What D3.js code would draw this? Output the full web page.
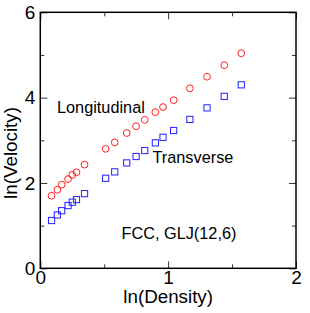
<!DOCTYPE html>
<html><head><meta charset="utf-8">
<script src="https://cdn.jsdelivr.net/npm/d3@7"></script>
<style>body{margin:0;background:#fff}svg{display:block}text{font-family:"Liberation Sans",Arial,Helvetica,sans-serif}</style>
</head><body>
<svg id="c" width="310" height="313"></svg>
<script>
const lnDensity = [0.088,0.133,0.167,0.217,0.250,0.283,0.346,0.511,0.582,0.676,0.749,0.817,0.900,0.960,1.043,1.170,1.304,1.439,1.572];
const longitudinal = [1.70,1.84,1.96,2.09,2.19,2.25,2.43,2.80,2.95,3.17,3.33,3.48,3.66,3.78,3.94,4.22,4.49,4.76,5.04];
const transverse = [1.12,1.25,1.35,1.47,1.55,1.61,1.75,2.11,2.26,2.47,2.62,2.76,2.94,3.07,3.23,3.49,3.76,4.03,4.30];
const xMajor = [0,1,2], xMinor = [0.5,1.5];
const yMajor = [0,2,4,6], yMinor = [1,3,5];

const svg = d3.select("#c");
const L=40.3, R=296, T=12.3, B=268.3;
const x = d3.scaleLinear().domain([0,2]).range([L,R]);
const y = d3.scaleLinear().domain([0,6]).range([B,T]);

function styleAxis(g){ g.select(".domain").remove(); g.selectAll("line").attr("stroke","#333"); g.selectAll("text").attr("font-size",19).attr("fill","#000"); }

svg.append("g").attr("transform",`translate(0,${B})`).call(d3.axisBottom(x).tickValues(xMajor).tickSize(-7).tickPadding(2.5).tickFormat(d3.format("d"))).call(styleAxis);
svg.append("g").attr("transform",`translate(0,${B})`).call(d3.axisBottom(x).tickValues(xMinor).tickSize(-4).tickFormat("")).call(styleAxis);
svg.append("g").attr("transform",`translate(0,${T})`).call(d3.axisTop(x).tickValues(xMajor).tickSize(-7).tickFormat("")).call(styleAxis);
svg.append("g").attr("transform",`translate(0,${T})`).call(d3.axisTop(x).tickValues(xMinor).tickSize(-4).tickFormat("")).call(styleAxis);
svg.append("g").attr("transform",`translate(${L},0)`).call(d3.axisLeft(y).tickValues(yMajor).tickSize(-7).tickPadding(5).tickFormat(d3.format("d"))).call(styleAxis);
svg.append("g").attr("transform",`translate(${L},0)`).call(d3.axisLeft(y).tickValues(yMinor).tickSize(-4).tickFormat("")).call(styleAxis);
svg.append("g").attr("transform",`translate(${R},0)`).call(d3.axisRight(y).tickValues(yMajor).tickSize(-7).tickFormat("")).call(styleAxis);
svg.append("g").attr("transform",`translate(${R},0)`).call(d3.axisRight(y).tickValues(yMinor).tickSize(-4).tickFormat("")).call(styleAxis);

svg.append("rect").attr("x",L).attr("y",T).attr("width",R-L).attr("height",B-T).attr("fill","none").attr("stroke","#000").attr("stroke-width",1.5);

svg.append("g").selectAll("circle").data(lnDensity).join("circle")
  .attr("cx",(d)=>x(d)).attr("cy",(d,i)=>y(longitudinal[i])).attr("r",3.4)
  .attr("fill","none").attr("stroke","#ff2020").attr("stroke-width",1);
const s=6.2;
svg.append("g").selectAll("rect").data(lnDensity).join("rect")
  .attr("x",(d)=>x(d)-s/2).attr("y",(d,i)=>y(transverse[i])-s/2).attr("width",s).attr("height",s)
  .attr("fill","none").attr("stroke","#2020ff").attr("stroke-width",1);

svg.append("text").attr("x",57).attr("y",113).attr("font-size",16.3).text("Longitudinal");
svg.append("text").attr("x",152.5).attr("y",163).attr("font-size",16.3).text("Transverse");
svg.append("text").attr("x",121.5).attr("y",239).attr("font-size",16.3).text("FCC, GLJ(12,6)");
svg.append("text").attr("x",(L+R)/2).attr("y",303).attr("text-anchor","middle").attr("font-size",18.8).text("ln(Density)");
svg.append("text").attr("transform","translate(17,153) rotate(-90)").attr("text-anchor","middle").attr("font-size",18.8).text("ln(Velocity)");
</script>
</body></html>
